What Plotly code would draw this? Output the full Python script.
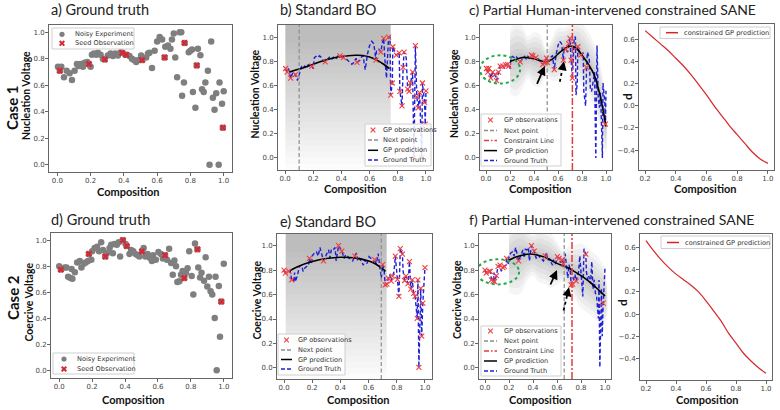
import numpy as np
import plotly.graph_objects as go

W, H = 780, 410

# ---------------- data ----------------
case1_x = [0.004,0.015,0.024,0.04,0.056,0.074,0.088,0.104,0.118,0.128,0.14,0.154,0.164,0.18,0.19,0.2,0.208,0.22,0.234,0.244,
           0.26,0.274,0.285,0.304,0.32,0.334,0.348,0.364,0.38,0.39,0.408,0.415,0.434,0.448,0.46,0.474,0.488,0.504,0.51,0.534,
           0.545,0.554,0.569,0.585,0.6,0.615,0.63,0.645,0.649,0.665,0.68,0.689,0.7,0.709,0.72,0.735,0.745,0.75,0.761,0.765,
           0.79,0.8,0.81,0.815,0.83,0.838,0.845,0.86,0.87,0.88,0.89,0.905,0.915,0.925,0.935,0.945,0.955,0.97,0.975,0.99,0.995,1.0]
case1_y = [0.74,0.71,0.74,0.66,0.71,0.69,0.64,0.71,0.76,0.745,0.76,0.74,0.77,0.775,0.76,0.74,0.83,0.84,0.83,0.845,
           0.83,0.80,0.795,0.825,0.84,0.82,0.84,0.825,0.85,0.845,0.83,0.83,0.82,0.80,0.79,0.775,0.79,0.825,0.79,0.81,
           0.84,0.845,0.73,0.86,0.93,0.965,0.945,0.81,0.89,0.90,0.876,0.945,0.99,0.81,0.66,1.0,1.0,0.52,0.62,0.92,
           0.85,0.86,0.87,0.55,0.43,0.75,0.876,0.826,0.57,0.55,0.62,0.71,0.0,0.93,0.505,0.415,0.54,0.0,0.62,0.46,0.28,0.555]
seed1_x = [0.015,0.19,0.285,0.39,0.415,0.51,0.645,0.765,0.838,0.995]

case2_x = [0.0,0.01,0.034,0.044,0.054,0.068,0.075,0.08,0.095,0.109,0.125,0.135,0.149,0.161,0.175,0.18,0.195,0.2,0.215,0.23,
           0.242,0.255,0.266,0.28,0.29,0.306,0.316,0.326,0.336,0.35,0.362,0.37,0.387,0.403,0.41,0.427,0.437,0.45,0.463,0.477,
           0.487,0.503,0.513,0.523,0.537,0.55,0.563,0.57,0.587,0.603,0.617,0.63,0.643,0.655,0.668,0.68,0.69,0.7,0.71,0.718,
           0.73,0.74,0.75,0.76,0.77,0.78,0.79,0.805,0.815,0.825,0.84,0.845,0.856,0.865,0.88,0.89,0.9,0.91,0.92,0.93,
           0.945,0.95,0.957,0.97,0.977,0.985,1.0]
case2_y = [0.80,0.775,0.79,0.79,0.72,0.71,0.78,0.705,0.755,0.83,0.84,0.79,0.82,0.83,0.84,0.895,0.85,0.915,0.94,0.95,
           0.915,0.985,0.925,0.875,0.90,0.94,0.965,0.90,0.97,0.965,0.985,0.875,1.0,0.97,0.955,0.895,0.925,0.915,0.895,0.885,
           0.875,0.915,0.94,0.875,0.895,0.865,0.84,0.885,0.85,0.91,0.895,0.86,0.885,0.85,0.935,0.825,0.735,0.845,0.80,0.68,
           0.685,0.735,0.765,0.71,0.75,0.785,0.915,0.725,0.585,0.975,0.93,0.79,0.715,0.75,0.69,0.87,0.645,0.72,0.61,0.585,
           0.405,0.72,0.005,0.65,0.26,0.53,0.82]
seed2_x = [0.01,0.18,0.28,0.387,0.41,0.503,0.643,0.76,0.84,0.985]

obs_b_x = [0.004,0.015,0.04,0.074,0.19,0.285,0.39,0.415,0.51,0.645,0.68,0.7,0.735,0.75,0.761,0.765,0.79,0.81,0.815,0.83,
           0.838,0.845,0.87,0.88,0.89,0.905,0.915,0.925,0.935,0.945,0.955,0.97,0.975,0.99,0.995,1.0]
obs_c_x = [0.004,0.015,0.024,0.04,0.056,0.074,0.088,0.104,0.118,0.14,0.164,0.18,0.19,0.285,0.38,0.39,0.415,0.474,0.488,
           0.504,0.51,0.569,0.645,0.665,0.689,0.7,0.709,0.72,0.765,0.79,0.838,0.995]
obs_e_x = [0.0,0.01,0.034,0.054,0.18,0.28,0.387,0.41,0.503,0.643,0.7,0.718,0.73,0.74,0.76,0.77,0.79,0.805,0.815,0.825,
           0.84,0.856,0.865,0.88,0.89,0.9,0.91,0.92,0.93,0.945,0.95,0.957,0.97,0.977,0.985,1.0]
obs_f_x = [0.0,0.01,0.034,0.044,0.054,0.068,0.08,0.095,0.109,0.125,0.149,0.161,0.18,0.28,0.387,0.41,0.503,0.603,0.617,
           0.643,0.655,0.718,0.73,0.76,0.84,0.985]

gp_b_x = [0.03,0.1,0.2,0.3,0.4,0.5,0.55,0.6,0.65,0.7,0.74]
gp_b_y = [0.71,0.735,0.775,0.815,0.84,0.85,0.848,0.835,0.81,0.775,0.74]
gp_e_x = [0.04,0.1,0.2,0.3,0.4,0.5,0.6,0.65,0.7,0.72]
gp_e_y = [0.795,0.83,0.87,0.895,0.905,0.9,0.875,0.85,0.81,0.79]
gp_c_x = [0.2,0.25,0.3,0.35,0.4,0.45,0.5,0.55,0.6,0.65,0.7,0.75,0.8,0.85,0.9,0.95,1.0]
gp_c_y = [0.80,0.815,0.83,0.83,0.82,0.805,0.795,0.815,0.86,0.9,0.925,0.91,0.85,0.78,0.69,0.52,0.26]
gp_c_sd = [0.12,0.14,0.12,0.08,0.1,0.1,0.05,0.08,0.1,0.08,0.08,0.1,0.12,0.12,0.12,0.12,0.1]
gp_f_x = [0.2,0.25,0.3,0.35,0.4,0.45,0.5,0.55,0.6,0.65,0.7,0.75,0.8,0.85,0.9,0.95,1.0]
gp_f_y = [0.88,0.905,0.92,0.93,0.93,0.92,0.905,0.88,0.855,0.835,0.815,0.785,0.755,0.72,0.68,0.635,0.59]
gp_f_sd = [0.12,0.14,0.14,0.1,0.08,0.1,0.1,0.1,0.08,0.06,0.08,0.1,0.12,0.12,0.12,0.12,0.1]

next_b, next_c, next_e, next_f = 0.10, 0.51, 0.69, 0.66
constraint_c, constraint_f = 0.72, 0.725

d1_x = [0.2,0.25,0.3,0.35,0.4,0.45,0.5,0.55,0.6,0.65,0.7,0.75,0.8,0.85,0.9,0.95,1.0]
d1_y = [0.68,0.62,0.56,0.50,0.43,0.36,0.28,0.19,0.10,0.0,-0.09,-0.18,-0.26,-0.34,-0.42,-0.48,-0.52]
d2_x = [0.2,0.25,0.3,0.35,0.4,0.45,0.5,0.55,0.6,0.65,0.7,0.75,0.8,0.85,0.9,0.95,1.0]
d2_y = [0.66,0.57,0.49,0.42,0.36,0.31,0.26,0.20,0.12,0.03,-0.06,-0.17,-0.26,-0.35,-0.42,-0.48,-0.53]

# ---------------- helpers ----------------
def P(xp): return xp / W
def Q(yp): return 1 - yp / H

def pick(xs, ys, sel):
    xa = np.array(xs)
    idx = [int(np.argmin(np.abs(xa - s))) for s in sel]
    return [xs[i] for i in idx], [ys[i] for i in idx]

GRAY = '#7f7f7f'
SEED_RED = '#d42a35'
OBS_RED = '#ef4040'
BLUE = '#1f1fd6'
CON_RED = '#e23c3c'
GT_DASH = '4px,2.5px'

panels = {
    1: (49, 232, 25, 172, [-0.05, 1.05], [-0.055, 1.055], 'std'),
    2: (278, 433, 25, 170, [-0.05, 1.05], [-0.1, 1.1], 'std'),
    3: (480, 612, 25, 170, [-0.05, 1.05], [-0.1, 1.1], 'std'),
    4: (639, 774, 24, 170, [0.16, 1.04], [-0.58, 0.74], 'd'),
    5: (51, 232, 233, 378, [-0.05, 1.05], [-0.055, 1.055], 'std'),
    6: (277, 432, 234, 379, [-0.05, 1.05], [-0.09, 1.095], 'std'),
    7: (479, 611, 234, 379, [-0.05, 1.05], [-0.09, 1.095], 'std'),
    8: (640, 772, 234, 380, [0.16, 1.04], [-0.59, 0.72], 'd'),
}

def names(i):
    return ('x' if i == 1 else f'x{i}', 'y' if i == 1 else f'y{i}')

fig = go.Figure()
layout = dict(width=W, height=H, margin=dict(l=0, r=0, t=0, b=0), autosize=False,
              paper_bgcolor='white', plot_bgcolor='white', showlegend=False)
tickfont = dict(family='DejaVu Sans', size=7, color='#444')
for i, (x0, x1, y0, y1, xr, yr, kind) in panels.items():
    xn, yn = names(i)
    if kind == 'std':
        xt = [0, 0.2, 0.4, 0.6, 0.8, 1.0]
        yt = [0, 0.2, 0.4, 0.6, 0.8, 1.0]
    else:
        xt = [0.2, 0.4, 0.6, 0.8, 1.0]
        yt = [-0.4, -0.2, 0, 0.2, 0.4, 0.6]
    common = dict(showline=True, mirror=True, linecolor='#666', linewidth=1, ticks='outside', ticklen=3,
                  tickwidth=1, tickcolor='#666', tickformat='.1f', tickfont=tickfont, showgrid=False,
                  zeroline=False, fixedrange=True, ticklabelstandoff=-1)
    layout['xaxis' if i == 1 else f'xaxis{i}'] = dict(domain=[P(x0), P(x1)], range=xr, anchor=yn, tickvals=xt, **common)
    layout['yaxis' if i == 1 else f'yaxis{i}'] = dict(domain=[Q(y1), Q(y0)], range=yr, anchor=xn, tickvals=yt, **common)

def add(i, **kw):
    xn, yn = names(i)
    fig.add_trace(go.Scatter(xaxis=xn, yaxis=yn, hoverinfo='skip', **kw))

# ---- ground truth panels ----
for i, cx, cy, sx in [(1, case1_x, case1_y, seed1_x), (5, case2_x, case2_y, seed2_x)]:
    add(i, x=cx, y=cy, mode='markers', marker=dict(color=GRAY, size=6.5, line=dict(width=0)))
    px_, py_ = pick(cx, cy, sx)
    add(i, x=px_, y=py_, mode='markers', marker=dict(color=SEED_RED, size=6, symbol='x', line=dict(width=0)))

# ---- standard BO haze (smooth vertical gradient) ----
haze_levels = list(np.round(np.arange(-0.1, 0.96, 0.05), 3))
for i, gx, top in [(2, gp_b_x, 1.1), (6, gp_e_x, 1.095)]:
    xa, xb = gx[0] - 0.03, gx[-1] + 0.01
    for lo in haze_levels:
        add(i, x=[xa, xb, xb, xa], y=[lo, lo, top, top], mode='none', fill='toself',
            fillcolor='rgba(40,40,40,0.010)')

# ---- constrained haze ----
for i, gx, gy, sd in [(3, gp_c_x, gp_c_y, gp_c_sd), (7, gp_f_x, gp_f_y, gp_f_sd)]:
    gy_a, sd_a = np.array(gy), np.array(sd)
    for k in [2.2, 1.8, 1.4, 1.0, 0.6, 0.3]:
        up = list(gy_a + k * sd_a)
        dn = list(gy_a - k * sd_a)
        add(i, x=gx + gx[::-1], y=up + dn[::-1], mode='none', fill='toself',
            fillcolor='rgba(60,60,60,0.05)', line=dict(shape='spline'))

# ---- BO panels lines ----
bo = [
    (2, case1_x, case1_y, obs_b_x, gp_b_x, gp_b_y, next_b, None),
    (3, case1_x, case1_y, obs_c_x, gp_c_x, gp_c_y, next_c, constraint_c),
    (6, case2_x, case2_y, obs_e_x, gp_e_x, gp_e_y, next_e, None),
    (7, case2_x, case2_y, obs_f_x, gp_f_x, gp_f_y, next_f, constraint_f),
]
for i, cx, cy, ox, gx, gy, nxt, con in bo:
    yr = panels[i][5]
    add(i, x=cx, y=cy, mode='lines', line=dict(color=BLUE, width=1.4, dash=GT_DASH))
    add(i, x=gx, y=gy, mode='lines', line=dict(color='black', width=1.6, shape='spline'))
    add(i, x=[nxt, nxt], y=yr, mode='lines', line=dict(color='#8c8c8c', width=1.2, dash='4px,2.5px'))
    if con is not None:
        add(i, x=[con, con], y=yr, mode='lines', line=dict(color=CON_RED, width=1.5, dash='7px,2px,2px,2px'))
    oxs, oys = pick(cx, cy, ox)
    add(i, x=oxs, y=oys, mode='markers',
        marker=dict(symbol='x-thin', size=5, color=OBS_RED, line=dict(color=OBS_RED, width=1.1)))

# ---- d panels ----
for i, dx, dy in [(4, d1_x, d1_y), (8, d2_x, d2_y)]:
    add(i, x=dx, y=dy, mode='lines', line=dict(color='#d62728', width=1.2, shape='spline'))

shapes = []
ann = []

# ---- ellipses & arrows ----
ellipses = [(3, 0.117, 0.732, 0.167, 0.117), (7, 0.107, 0.786, 0.177, 0.103)]
for i, ecx, ecy, erx, ery in ellipses:
    xn, yn = names(i)
    shapes.append(dict(type='circle', xref=xn, yref=yn, x0=ecx - erx, x1=ecx + erx, y0=ecy - ery, y1=ecy + ery,
                       line=dict(color='#22a84a', width=2, dash='dot'), layer='above'))

arrows = [  # panel, tail x, tail y, tip x, tip y, dotted
    (3, 0.42, 0.60, 0.49, 0.76, False),
    (3, 0.615, 0.63, 0.65, 0.80, True),
    (7, 0.54, 0.67, 0.60, 0.80, False),
    (7, 0.655, 0.47, 0.70, 0.66, True),
]
for i, tx, ty, hx, hy, dotted in arrows:
    xn, yn = names(i)
    if dotted:
        shapes.append(dict(type='line', xref=xn, yref=yn, x0=tx, y0=ty, x1=tx + 0.8 * (hx - tx), y1=ty + 0.8 * (hy - ty),
                           line=dict(color='black', width=1.8, dash='dot'), layer='above'))
        ax_, ay_ = tx + 0.75 * (hx - tx), ty + 0.75 * (hy - ty)
    else:
        ax_, ay_ = tx, ty
    ann.append(dict(x=hx, y=hy, xref=xn, yref=yn, ax=ax_, ay=ay_, axref=xn, ayref=yn, text='', showarrow=True,
                    arrowhead=2, arrowsize=1, arrowwidth=1.8, arrowcolor='black'))

# ---- custom legends ----
def add_legend(box, rows, sx0, sx1, tx, fs=6.6):
    bx0, by0, bx1, by1 = box
    shapes.append(dict(type='rect', xref='paper', yref='paper', x0=P(bx0), x1=P(bx1), y0=Q(by1), y1=Q(by0),
                       line=dict(color='#cfcfcf', width=1), fillcolor='rgba(255,255,255,0.85)', layer='above'))
    sc = (sx0 + sx1) / 2
    for kind, color, dash, label, yc in rows:
        if kind == 'line':
            shapes.append(dict(type='line', xref='paper', yref='paper', x0=P(sx0), x1=P(sx1), y0=Q(yc), y1=Q(yc),
                               line=dict(color=color, width=1.5, dash=dash), layer='above'))
        elif kind == 'circle':
            r = 2.6
            shapes.append(dict(type='circle', xref='paper', yref='paper', x0=P(sc - r), x1=P(sc + r), y0=Q(yc + r),
                               y1=Q(yc - r), line=dict(width=0), fillcolor=color, layer='above'))
        elif kind in ('x', 'xbold'):
            r = 2.3
            wdt = 2.0 if kind == 'xbold' else 1.1
            for s in (1, -1):
                shapes.append(dict(type='line', xref='paper', yref='paper', x0=P(sc - r), x1=P(sc + r),
                                   y0=Q(yc - s * r), y1=Q(yc + s * r), line=dict(color=color, width=wdt), layer='above'))
        ann.append(dict(x=P(tx), y=Q(yc), xref='paper', yref='paper', text=label, showarrow=False, xanchor='left',
                        yanchor='middle', font=dict(family='DejaVu Sans', size=fs, color='#333')))

add_legend((52, 28, 134, 49), [('circle', GRAY, None, 'Noisy Experiment', 34.3),
                               ('xbold', SEED_RED, None, 'Seed Observation', 43.3)], 59, 65, 73)
add_legend((53, 353, 134, 374), [('circle', GRAY, None, 'Noisy Experiment', 359),
                                 ('xbold', SEED_RED, None, 'Seed Observation', 369)], 61, 67, 75)

bo_rows4 = [('x', OBS_RED, None, 'GP observations'), ('line', '#8c8c8c', '4px,2px', 'Next point'),
            ('line', 'black', 'solid', 'GP prediction'), ('line', BLUE, '4px,2px', 'Ground Truth')]
bo_rows5 = [('x', OBS_RED, None, 'GP observations'), ('line', '#8c8c8c', '4px,2px', 'Next point'),
            ('line', CON_RED, '5px,2px,1.5px,2px', 'Constraint Line'), ('line', 'black', 'solid', 'GP prediction'),
            ('line', BLUE, '4px,2px', 'Ground Truth')]
add_legend((365, 124, 431, 166), [r + (y,) for r, y in zip(bo_rows4, [130, 140, 150.3, 160])], 368, 378, 381)
add_legend((278, 334, 345, 375), [r + (y,) for r, y in zip(bo_rows4, [340, 350, 359.5, 369])], 281, 292, 296)
add_legend((481, 114, 561, 166), [r + (y,) for r, y in zip(bo_rows5, [120, 130.5, 140.6, 150.6, 160.5])], 484, 497, 502)
add_legend((481, 326, 561, 376), [r + (y,) for r, y in zip(bo_rows5, [331, 341, 351, 361, 371])], 484, 497, 502)
add_legend((660, 27, 770, 38.5), [('line', '#d62728', 'solid', 'constrained GP prediction', 32.7)], 666, 678, 682)
add_legend((661, 236, 770, 248.5), [('line', '#d62728', 'solid', 'constrained GP prediction', 242.5)], 667, 679, 683)

# ---- titles & labels ----
TF = 'Lato'
def text(xp, yp, s, size, bold=False, anchor='center', angle=0, color='#111'):
    ann.append(dict(x=P(xp), y=Q(yp), xref='paper', yref='paper', text=f'<b>{s}</b>' if bold else s,
                    showarrow=False, xanchor=anchor, yanchor='middle', textangle=angle,
                    font=dict(family=TF, size=size, color=color)))

text(49, 9, 'a) Ground truth', 14.5, anchor='left', color='#222')
text(278, 9, 'b) Standard BO', 14.5, anchor='left', color='#222')
text(467, 9, 'c) Partial Human-intervened constrained SANE', 14, anchor='left', color='#222')
text(49, 219.5, 'd) Ground truth', 14.5, anchor='left', color='#222')
text(278, 221, 'e) Standard BO', 14.5, anchor='left', color='#222')
text(467, 219.5, 'f) Partial Human-intervened constrained SANE', 14, anchor='left', color='#222')

for xc, yc in [(128, 191), (355, 188.5), (540, 188.5), (705, 188.5), (133, 399), (358, 399), (540, 399), (707, 399)]:
    text(xc, yc, 'Composition', 11, bold=True)

text(12, 108, 'Case 1', 15, bold=True, angle=-90)
text(13, 298, 'Case 2', 15, bold=True, angle=-90)
text(26, 96, 'Nucleation Voltage', 10.5, bold=True, angle=-90)
text(254.5, 94, 'Nucleation Voltage', 10.5, bold=True, angle=-90)
text(454, 94, 'Nucleation Voltage', 10.5, bold=True, angle=-90)
text(28.5, 302, 'Coercive Voltage', 10.5, bold=True, angle=-90)
text(256.5, 300, 'Coercive Voltage', 10.5, bold=True, angle=-90)
text(457, 300, 'Coercive Voltage', 10.5, bold=True, angle=-90)
text(627, 97, 'd', 12, bold=True, angle=-90)
text(622, 303, 'd', 12, bold=True, angle=-90)

layout['shapes'] = shapes
layout['annotations'] = ann
fig.update_layout(**layout)
fig.write_html('out.html')
